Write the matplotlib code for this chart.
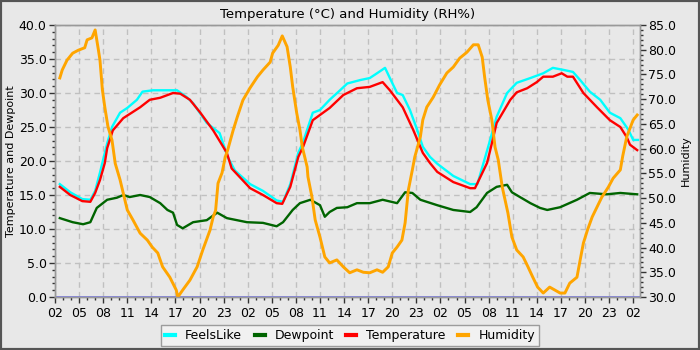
import matplotlib
matplotlib.use("Agg")
import matplotlib.pyplot as plt
from matplotlib.ticker import MultipleLocator, FormatStrFormatter, FixedLocator
from matplotlib.patches import Rectangle

# ---- data (hours since 02:00 on day 1) ----
temp_t = [0.6, 1.9, 3.4, 4.4, 5.0, 5.6, 6.2, 6.5, 7.2, 8.5, 10.6, 11.8, 13.1, 14.7, 15.6, 16.8,
          18.1, 19.7, 21.4, 22.0, 24.3, 25.9, 27.6, 28.3, 29.3, 30.3, 30.9, 32.1, 34.2, 35.9,
          37.6, 39.2, 40.8, 41.7, 43.3, 44.6, 45.8, 46.7, 47.6, 49.6, 51.7, 52.3, 53.8, 54.2,
          55.0, 56.7, 57.5, 58.8, 60.0, 60.8, 62.0, 63.1, 63.8, 64.5, 65.8, 67.5, 69.1, 70.4,
          71.2, 71.6, 72.5]
temp_v = [16.2, 15.0, 14.1, 14.0, 15.3, 17.2, 19.7, 21.9, 24.5, 26.3, 27.9, 29.0, 29.3, 30.0, 29.9, 29.0,
          27.1, 24.5, 21.2, 18.9, 16.0, 15.0, 13.8, 13.7, 16.2, 20.6, 22.1, 26.0, 27.8, 29.7,
          30.7, 30.9, 31.6, 30.4, 27.9, 24.6, 21.2, 19.7, 18.4, 16.9, 16.0, 16.0, 19.7, 21.6,
          25.6, 29.0, 30.1, 30.7, 31.6, 32.4, 32.4, 32.9, 32.4, 32.4, 30.0, 27.9, 26.0, 25.0,
          23.5, 22.4, 21.6]

feels_t = [0.6, 1.9, 3.4, 4.4, 5.0, 5.6, 6.5, 7.1, 8.1, 9.0, 10.2, 10.9, 12.2, 13.9, 15.2, 16.4,
           17.2, 18.9, 20.5, 21.5, 22.4, 24.3, 25.9, 27.6, 28.4, 29.3, 30.3, 30.9, 31.4, 32.1,
           33.0, 34.2, 35.5, 36.4, 38.0, 39.2, 40.1, 41.1, 41.7, 42.6, 43.3, 44.2, 45.1, 45.8,
           46.7, 47.6, 49.6, 51.7, 52.6, 53.8, 55.0, 56.3, 57.5, 59.2, 60.8, 62.0, 63.3, 64.5,
           65.4, 66.6, 67.9, 69.1, 70.4, 71.4, 72.0, 72.6]
feels_v = [16.6, 15.4, 14.4, 14.3, 15.6, 18.3, 22.6, 25.0, 27.1, 27.8, 29.0, 30.2, 30.4, 30.4, 30.4, 29.4,
           28.5, 25.6, 24.1, 20.6, 18.6, 16.6, 15.6, 14.2, 14.0, 16.6, 21.2, 22.8, 24.6, 27.1,
           27.5, 29.0, 30.4, 31.4, 31.9, 32.2, 32.9, 33.7, 32.2, 30.0, 29.7, 27.5, 24.6, 22.1,
           20.6, 19.6, 17.8, 16.6, 16.6, 21.5, 26.5, 30.0, 31.5, 32.2, 32.9, 33.7, 33.4, 33.1,
           31.9, 30.2, 29.0, 27.1, 26.3, 24.6, 23.1, 23.1]

dew_t = [0.6, 2.2, 3.5, 4.4, 5.2, 6.5, 7.7, 8.5, 9.3, 10.6, 11.8, 13.1, 14.0, 14.7, 15.2, 15.9,
         17.2, 18.9, 20.2, 21.4, 23.9, 25.9, 27.6, 28.4, 29.6, 30.5, 31.8, 33.0, 33.6, 34.2,
         35.1, 36.4, 37.6, 39.2, 40.8, 42.6, 43.6, 44.5, 45.5, 47.6, 49.6, 51.7, 52.5, 53.8,
         55.0, 56.3, 56.9, 57.9, 59.2, 60.4, 61.3, 62.9, 65.0, 66.6, 68.7, 70.4, 72.5]
dew_v = [11.6, 11.0, 10.7, 11.0, 13.1, 14.3, 14.6, 15.0, 14.7, 15.0, 14.7, 13.8, 12.8, 12.4, 10.6, 10.1,
         11.0, 11.3, 12.4, 11.6, 11.0, 10.9, 10.4, 11.0, 12.8, 13.8, 14.3, 13.5, 11.8, 12.5,
         13.1, 13.2, 13.8, 13.8, 14.3, 13.8, 15.4, 15.3, 14.3, 13.5, 12.8, 12.5, 13.2, 15.3,
         16.2, 16.5, 15.4, 14.7, 13.8, 13.1, 12.8, 13.2, 14.3, 15.3, 15.1, 15.3, 15.1]

hum_t = [0.6, 0.9, 1.5, 2.2, 2.9, 3.7, 4.0, 4.6, 5.0, 5.4,
         5.6, 5.9, 6.2, 6.6, 7.1, 7.5, 8.1, 9.0, 9.7, 10.6,
         11.5, 12.1, 12.8, 13.4, 14.3, 15.1, 15.3, 15.9, 16.8, 17.7,
         18.4, 19.3, 19.7, 20.0, 20.3, 20.8, 21.2, 21.5, 22.2, 22.7,
         23.4, 24.3, 25.2, 25.9, 26.8, 27.1, 27.8, 28.3, 28.9, 29.3,
         29.6, 30.1, 30.5, 30.8, 31.4, 31.5, 32.0, 32.4, 33.0, 33.6,
         34.2, 35.1, 35.9, 36.7, 37.6, 38.4, 39.2, 40.1, 40.8, 41.5,
         42.0, 42.6, 43.2, 43.6, 44.0, 44.5, 44.8, 45.5, 45.8, 46.3,
         47.1, 47.9, 48.8, 49.6, 50.4, 51.3, 52.1, 52.7, 53.2, 53.5,
         53.9, 54.4, 54.8, 55.2, 55.7, 56.4, 56.9, 57.5, 58.3, 58.9,
         59.5, 60.1, 60.8, 61.6, 62.9, 63.5, 64.1, 65.0, 65.4, 65.8,
         66.3, 66.9, 67.5, 68.1, 68.9, 69.5, 70.4, 70.7, 71.2, 72.0,
         72.5]
hum_v = [74.3, 75.9, 77.9, 79.3, 79.9, 80.4, 82.0, 82.4, 84.0, 80.0,
         77.9, 71.9, 68.4, 64.4, 61.7, 57.0, 53.7, 47.6, 45.6, 42.9,
         41.5, 40.1, 38.9, 36.1, 34.0, 31.4, 30.0, 31.4, 33.4, 36.1,
         39.5, 43.5, 46.2, 47.5, 53.0, 55.1, 58.3, 59.7, 63.8, 66.4,
         69.8, 72.3, 74.5, 75.9, 77.5, 79.3, 80.9, 82.8, 80.6, 76.5,
         72.5, 67.2, 63.8, 60.3, 56.3, 54.3, 50.2, 45.6, 42.1, 38.1,
         36.9, 37.5, 36.1, 34.9, 35.5, 35.0, 34.9, 35.5, 35.0, 36.1,
         38.9, 40.1, 41.5, 45.0, 51.6, 55.7, 58.3, 62.4, 65.8, 68.4,
         70.4, 72.9, 75.3, 76.5, 78.3, 79.5, 81.0, 81.0, 78.5, 74.5,
         69.8, 65.8, 60.3, 57.7, 52.2, 47.0, 42.1, 39.5, 38.1, 36.1,
         34.0, 32.0, 30.8, 32.0, 30.8, 30.8, 32.8, 34.0, 37.5, 40.9,
         43.5, 46.2, 48.2, 50.2, 52.2, 54.0, 55.7, 58.5, 62.4, 65.8,
         66.8]

tick_hours = list(range(0, 73, 3))
tick_labels = ["02", "05", "08", "11", "14", "17", "20", "23"] * 3 + ["02"]

title = "Temperature (°C) and Humidity (RH%)"

# ---- figure ----
bg = "#e8e8e8"
fig = plt.figure(figsize=(7, 3.5), dpi=100, facecolor=bg)
ax = fig.add_axes([55 / 700, 53 / 350, 585 / 700, 272 / 350])
ax.set_facecolor(bg)
ax2 = ax.twinx()

ax.set_xlim(0, 72.85)
ax.set_ylim(0, 40)
ax2.set_ylim(30, 85)

ax.grid(True, color="#c0c0c0", linestyle=(0, (4, 3)), linewidth=1)
ax.set_axisbelow(True)

ax.axhline(0, color="#7878f0", linewidth=2, zorder=1)
l1, = ax.plot(feels_t, feels_v, color="#00ffff", linewidth=1.7, label="FeelsLike")
l2, = ax.plot(dew_t, dew_v, color="#006400", linewidth=1.7, label="Dewpoint")
l3, = ax.plot(temp_t, temp_v, color="#ff0000", linewidth=1.7, label="Temperature")
l4, = ax2.plot(hum_t, hum_v, color="#ffa500", linewidth=2.1, label="Humidity")

ax.xaxis.set_major_locator(FixedLocator(tick_hours))
ax.set_xticklabels(tick_labels)
ax.xaxis.set_minor_locator(MultipleLocator(1))
ax.yaxis.set_major_locator(MultipleLocator(5))
ax.yaxis.set_minor_locator(MultipleLocator(1))
ax.yaxis.set_major_formatter(FormatStrFormatter("%.1f"))
ax2.yaxis.set_major_locator(MultipleLocator(5))
ax2.yaxis.set_minor_locator(MultipleLocator(1))
ax2.yaxis.set_major_formatter(FormatStrFormatter("%.1f"))

for a in (ax, ax2):
    a.tick_params(which="major", length=4, width=1, color="#333333", labelsize=9, pad=2)
    a.tick_params(which="minor", length=2.5, width=1, color="#333333")
    for s in a.spines.values():
        s.set_color("#999999")
        s.set_linewidth(1)
ax.tick_params(axis="x", which="major", pad=3)

ax.set_ylabel("Temperature and Dewpoint", fontsize=8)
ax2.set_ylabel("Humidity", fontsize=8)
ax.yaxis.set_label_coords(-0.066, 0.5)
ax2.yaxis.set_label_coords(1.070, 0.5)
ax.set_title(title, fontsize=9.5, pad=5)

leg = fig.legend(handles=[l1, l2, l3, l4], loc="lower center", bbox_to_anchor=(0.5, 0.003),
                 ncol=4, fontsize=9, frameon=True, fancybox=False, handlelength=0.8,
                 columnspacing=1.0, handletextpad=0.8, borderpad=0.35, borderaxespad=0.2)
leg.get_frame().set_facecolor("#f4f4f4")
leg.get_frame().set_edgecolor("#888888")
leg.get_frame().set_linewidth(1)
for h in leg.get_lines():
    h.set_linewidth(3)

fig.patches.append(Rectangle((0, 0), 1, 1, transform=fig.transFigure, fill=False,
                             edgecolor="#555555", linewidth=3))

fig.savefig("out.png", dpi=100, facecolor=bg)
